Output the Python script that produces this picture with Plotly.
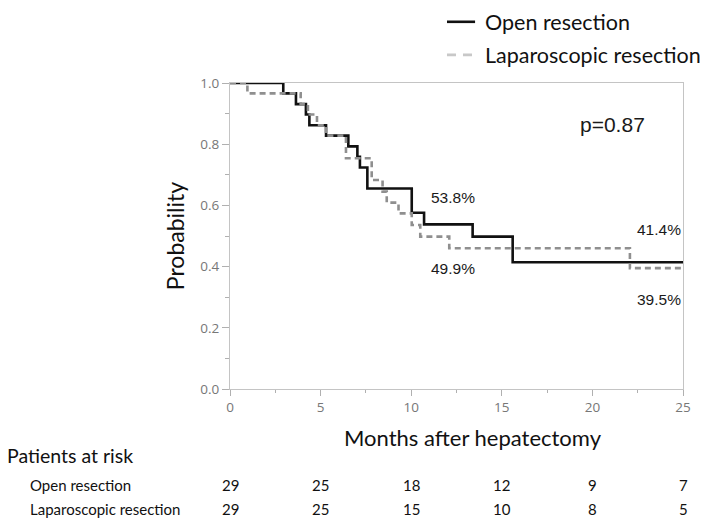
import plotly.graph_objects as go

# Kaplan-Meier step data (months, survival probability)
open_months = [0, 2.94, 3.64, 4.19, 4.38, 5.3, 6.53, 7.03, 7.17, 7.58, 10.03, 10.71, 13.39, 15.6, 25]
open_prob = [1.0, 0.966, 0.931, 0.897, 0.862, 0.828, 0.793, 0.759, 0.724, 0.655, 0.576, 0.538, 0.498, 0.414, 0.414]

lap_months = [0, 0.96, 3.9, 4.3, 4.8, 5.3, 6.4, 7.82, 8.42, 8.65, 9.3, 10.03, 10.5, 12.1, 22.07, 25]
lap_prob = [1.0, 0.966, 0.931, 0.897, 0.862, 0.828, 0.754, 0.683, 0.645, 0.609, 0.574, 0.536, 0.498, 0.46, 0.395, 0.395]

series_names = ["Open resection", "Laparoscopic resection"]

# percentage labels: (x month, y prob, text)
pct_x = [12.3, 12.3, 23.7, 23.7]
pct_y = [0.627, 0.395, 0.52, 0.294]
pct_text = ["53.8%", "49.9%", "41.4%", "39.5%"]
p_text = "p=0.87"

# patients at risk
risk_months = [0, 5, 10, 15, 20, 25]
risk_open = [29, 25, 18, 12, 9, 7]
risk_lap = [29, 25, 15, 10, 8, 5]

CAL = "Lato, 'Open Sans', sans-serif"
ARIAL = "'Liberation Sans', Arial, sans-serif"

fig = go.Figure()
fig.add_trace(go.Scatter(x=open_months, y=open_prob, mode="lines", line_shape="hv", name=series_names[0],
                         line=dict(color="#111111", width=2.6), showlegend=False))
fig.add_trace(go.Scatter(x=lap_months, y=lap_prob, mode="lines", line_shape="hv", name=series_names[1],
                         line=dict(color="#8f8f8f", width=2.6, dash="6px,4px"), showlegend=False))

ann = []
for x, y, t in zip(pct_x, pct_y, pct_text):
    ann.append(dict(x=x, y=y, xref="x", yref="y", text=t, showarrow=False,
                    font=dict(family=ARIAL, size=15.5, color="#1a1a1a")))
ann.append(dict(x=21.1, y=0.863, xref="x", yref="y", text=p_text, showarrow=False,
                font=dict(family=ARIAL, size=21, color="#1a1a1a")))

# legend (drawn manually so it does not push the margins)
legend_y = [1.200, 1.092]
legend_line = [dict(color="#111111", width=2.6), dict(color="#c8c8c8", width=2.6, dash="9px,7px")]
shapes = []
for name, ly, ln in zip(series_names, legend_y, legend_line):
    shapes.append(dict(type="line", xref="paper", yref="paper", x0=0.479, x1=0.541, y0=ly, y1=ly, line=ln))
    ann.append(dict(x=0.561, y=ly, xref="paper", yref="paper", text=name, showarrow=False, borderpad=0,
                    xanchor="left", yanchor="middle", font=dict(family=CAL, size=21.5, color="#111")))

# x axis title (placed as annotation, offset as in the original)
ann.append(dict(x=0.536, y=-0.160, xref="paper", yref="paper", text="Months after hepatectomy",
                showarrow=False, xanchor="center", yanchor="middle",
                font=dict(family=CAL, size=22, color="#111")))

ann.append(dict(x=-0.497, y=-0.216, xref="paper", yref="paper", text="Patients at risk",
                showarrow=False, xanchor="left", yanchor="middle", font=dict(family=CAL, size=19.5, color="#111")))
ann.append(dict(x=-0.446, y=-0.314, xref="paper", yref="paper", text=series_names[0],
                showarrow=False, xanchor="left", yanchor="middle", font=dict(family=CAL, size=15, color="#111")))
ann.append(dict(x=-0.446, y=-0.392, xref="paper", yref="paper", text=series_names[1],
                showarrow=False, xanchor="left", yanchor="middle", font=dict(family=CAL, size=15, color="#111")))
for m, a, b in zip(risk_months, risk_open, risk_lap):
    ann.append(dict(x=m, y=-0.314, xref="x", yref="paper", text=str(a), showarrow=False,
                    yanchor="middle", font=dict(family=CAL, size=15, color="#111")))
    ann.append(dict(x=m, y=-0.392, xref="x", yref="paper", text=str(b), showarrow=False,
                    yanchor="middle", font=dict(family=CAL, size=15, color="#111")))

fig.update_layout(
    width=714, height=525,
    margin=dict(l=222, r=39, t=75, b=144),
    paper_bgcolor="white", plot_bgcolor="white",
    showlegend=False,
    annotations=ann, shapes=shapes,
    xaxis=dict(range=[0, 25], tickvals=[0, 5, 10, 15, 20, 25], showgrid=False, zeroline=False,
               showline=True, linecolor="#c4c4c4", linewidth=1, mirror=True,
               ticks="outside", ticklen=6, tickcolor="#b0b0b0",
               minor=dict(tickvals=[2.5, 7.5, 12.5, 17.5, 22.5], ticks="outside", ticklen=3, tickcolor="#b0b0b0"),
               tickfont=dict(family="'Open Sans', sans-serif", size=13.5, color="#777777")),
    yaxis=dict(range=[0, 1.0], tickvals=[0, 0.2, 0.4, 0.6, 0.8, 1.0], tickformat=".1f",
               showgrid=False, zeroline=False,
               showline=True, linecolor="#c4c4c4", linewidth=1, mirror=True,
               ticks="outside", ticklen=7, tickcolor="#b0b0b0",
               minor=dict(tickvals=[0.1, 0.3, 0.5, 0.7, 0.9], ticks="outside", ticklen=4, tickcolor="#b0b0b0"),
               tickfont=dict(family="'Open Sans', sans-serif", size=13.5, color="#777777"),
               title=dict(text="Probability", font=dict(family=CAL, size=23, color="#111"), standoff=9)),
)

fig.write_html("out.html")
